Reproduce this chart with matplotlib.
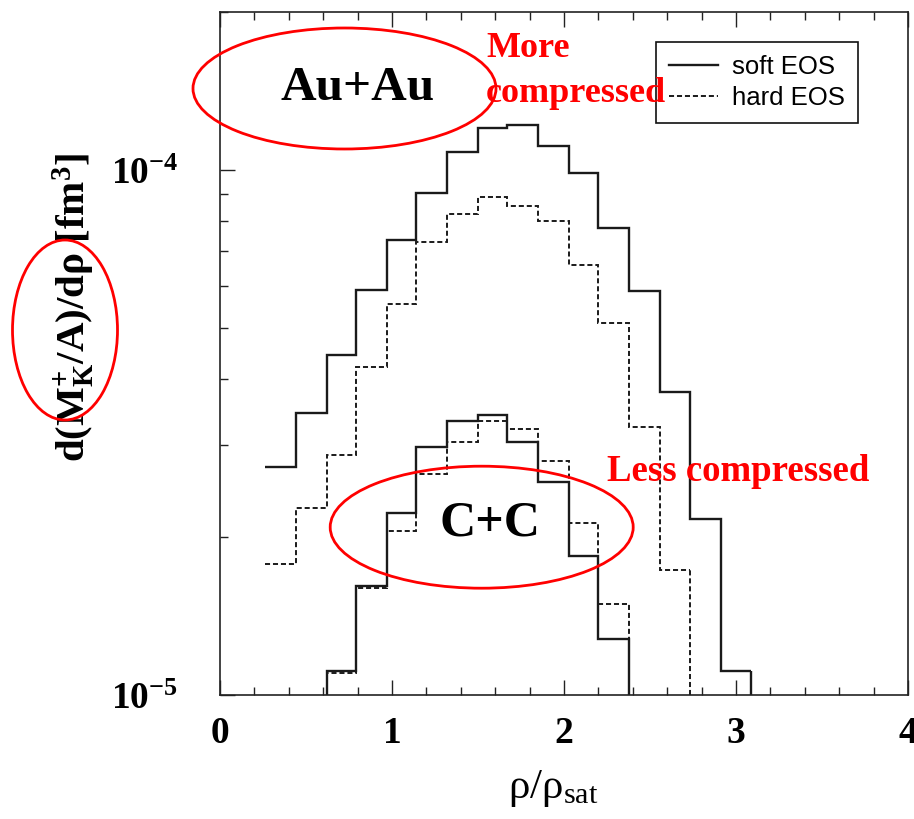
import numpy as np
import matplotlib
matplotlib.use("Agg")
import matplotlib.pyplot as plt
from matplotlib.patches import Ellipse
from matplotlib.ticker import FixedLocator, LogLocator, NullFormatter, FixedFormatter

plt.rcParams['mathtext.fontset'] = 'custom'
plt.rcParams['mathtext.rm'] = 'Liberation Serif'
plt.rcParams['mathtext.it'] = 'Liberation Serif:italic'
plt.rcParams['mathtext.bf'] = 'Liberation Serif:bold'

# ---- data ----
bin_edges = [0.26, 0.44, 0.62, 0.79, 0.97, 1.14, 1.32, 1.50, 1.67, 1.85,
             2.03, 2.20, 2.38, 2.56, 2.73, 2.91, 3.09]
au_soft = [2.72e-5, 3.45e-5, 4.45e-5, 5.92e-5, 7.36e-5, 9.03e-5, 1.08e-4, 1.20e-4,
           1.22e-4, 1.11e-4, 9.85e-5, 7.74e-5, 5.87e-5, 3.77e-5, 2.16e-5, 1.11e-5]
au_hard = [1.78e-5, 2.27e-5, 2.86e-5, 4.22e-5, 5.56e-5, 7.28e-5, 8.25e-5, 8.88e-5,
           8.55e-5, 7.98e-5, 6.58e-5, 5.11e-5, 3.24e-5, 1.73e-5]
cc_first_bin = 2
cc_soft = [1.11e-5, 1.61e-5, 2.22e-5, 2.97e-5, 3.32e-5, 3.42e-5, 3.04e-5, 2.54e-5, 1.84e-5, 1.28e-5]
cc_hard = [1.10e-5, 1.60e-5, 2.05e-5, 2.64e-5, 3.04e-5, 3.32e-5, 3.21e-5, 2.79e-5, 2.13e-5, 1.49e-5]

xticks = [0, 1, 2, 3, 4]
xtick_labels = ['0', '1', '2', '3', '4']
yticks = [1e-5, 1e-4]
ytick_labels = [r'$\mathbf{10^{-5}}$', r'$\mathbf{10^{-4}}$']
legend_labels = ['soft EOS', 'hard EOS']

W, H = 914, 819
fig = plt.figure(figsize=(W / 100, H / 100), dpi=100)
ax = fig.add_axes([220 / W, 1 - 695 / H, 688 / W, 683 / H])
ax.set_yscale('log')
ax.set_xlim(0, 4)
ax.set_ylim(1e-5, 2e-4)
ymin = ax.get_ylim()[0]

soft_kw = dict(color='#1a1a1a', lw=1.7)
hard_kw = dict(color='#1a1a1a', lw=1.4, linestyle=(0, (2.6, 1.5)))

e = np.array(bin_edges)
h_soft = ax.stairs(au_soft, e[:len(au_soft) + 1], baseline=None, **soft_kw)
ax.vlines(e[len(au_soft)], ymin, au_soft[-1], **soft_kw)
h_hard = ax.stairs(au_hard, e[:len(au_hard) + 1], baseline=None, **hard_kw)
ax.vlines(e[len(au_hard)], ymin, au_hard[-1], colors='#1a1a1a', lw=1.4, linestyles=[(0, (2.6, 1.5))])

cc_edges = e[cc_first_bin:cc_first_bin + len(cc_soft) + 1]
ax.stairs(cc_soft, cc_edges, baseline=1e-7, **soft_kw)
ax.stairs(cc_hard, cc_edges, baseline=1e-7, **hard_kw)

# ticks
ax.xaxis.set_major_locator(FixedLocator(xticks))
ax.xaxis.set_major_formatter(FixedFormatter(xtick_labels))
ax.xaxis.set_minor_locator(FixedLocator(np.arange(0, 4.01, 0.2)))
ax.yaxis.set_major_locator(FixedLocator(yticks))
ax.yaxis.set_major_formatter(FixedFormatter(ytick_labels))
ax.yaxis.set_minor_locator(LogLocator(base=10, subs=np.arange(2, 10)))
ax.yaxis.set_minor_formatter(NullFormatter())
ax.tick_params(which='both', direction='in', top=True, right=False, width=1.0, color='#222222')
ax.tick_params(which='major', length=11)
ax.tick_params(which='minor', length=6)
ax.tick_params(axis='x', which='major', pad=15, labelsize=27)
ax.tick_params(axis='y', which='major', pad=30, labelsize=27)
for lab in ax.get_xticklabels():
    lab.set_fontfamily('Liberation Serif')
    lab.set_fontweight('bold')
for sp in ax.spines.values():
    sp.set_linewidth(1.2)
    sp.set_color('#222222')

# axis labels
ax.text(-0.212, 0.567, r'$\mathbf{d(M_K^{+}/A)/d\rho\ [fm^3]}$', transform=ax.transAxes,
        rotation=90, ha='center', va='center', fontsize=29.5)
fig.text(553 / W, 1 - 788 / H, r'$\mathrm{\rho/\rho_{sat}}$', ha='center', va='center', fontsize=31)

# legend
leg = ax.legend([h_soft, h_hard], legend_labels, loc='upper left',
                bbox_to_anchor=((656 - 220) / 688, (695 - 41.7) / 683),
                prop={'family': 'Liberation Sans', 'size': 18.5}, frameon=True, fancybox=False,
                framealpha=1, edgecolor='#111111', handlelength=1.9, handletextpad=0.55,
                borderpad=0.5, labelspacing=0.3, borderaxespad=0)
leg.get_frame().set_linewidth(1.2)

# annotations
serif_b = dict(family='Liberation Serif', weight='bold')
fig.text(358 / W, 1 - 100 / H, 'Au+Au', ha='center', va='baseline', fontsize=35.5, color='black', **serif_b)
fig.text(490 / W, 1 - 535 / H, 'C+C', ha='center', va='baseline', fontsize=36, color='black', **serif_b)
fig.text(486 / W, 1 - 56.7 / H, 'More', ha='left', va='baseline', fontsize=26, color='#ff0000', **serif_b)
fig.text(486 / W, 1 - 101.7 / H, 'compressed', ha='left', va='baseline', fontsize=26, color='#ff0000', **serif_b)
fig.text(606.7 / W, 1 - 480.7 / H, 'Less compressed', ha='left', va='baseline', fontsize=26.5,
         color='#ff0000', **serif_b)

for (cx, cy, w, h) in [(344.5, 88.5, 303, 121), (481.7, 527.2, 303, 122), (65, 330, 105, 180)]:
    fig.add_artist(Ellipse((cx / W, 1 - cy / H), w / W, h / H, transform=fig.transFigure,
                           fill=False, ec='#ff0000', lw=2.0))

fig.savefig('out.png', dpi=100)
